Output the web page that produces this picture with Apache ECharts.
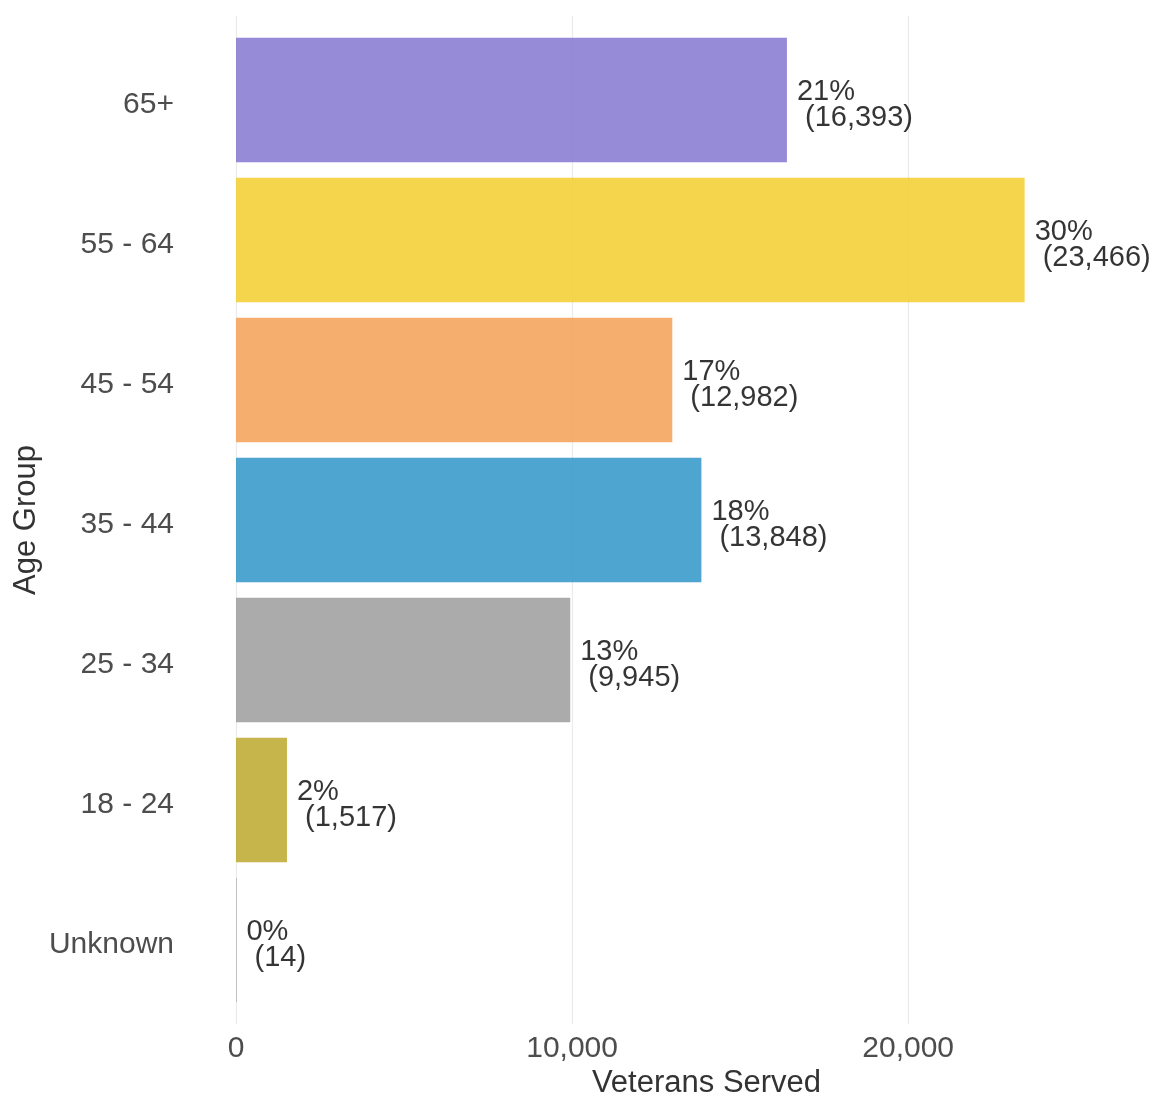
<!DOCTYPE html>
<html>
<head>
<meta charset="utf-8">
<script src="https://cdn.jsdelivr.net/npm/echarts@6/dist/echarts.min.js"></script>
<style>
  html, body { margin: 0; padding: 0; background: #ffffff; }
  #chart { width: 1157px; height: 1098px; }
</style>
</head>
<body>
<div id="chart"></div>
<script>
// Veterans served, by age group
const ageGroups = ['65+', '55 - 64', '45 - 54', '35 - 44', '25 - 34', '18 - 24', 'Unknown'];
const veteransServed = [16393, 23466, 12982, 13848, 9945, 1517, 14];
const sharePct = [21, 30, 17, 18, 13, 2, 0];
const barColors = ['#8377CF', '#F2CE2B', '#F4A055', '#2F95C8', '#9C9C9C', '#BCA82B', '#888888'];
const xTicks = [0, 10000, 20000];

const FONT = '"Liberation Sans", Arial, sans-serif';
const fmt = v => v.toLocaleString('en-US');

const chart = echarts.init(document.getElementById('chart'), null, { renderer: 'canvas' });

const panelLeft = 236;
const panelWidth = 941;

chart.setOption({
  backgroundColor: '#ffffff',
  animation: false,
  grid: [
    // full panel: gridlines and x tick labels
    { left: panelLeft, width: panelWidth, top: 16, height: 1008, outerBoundsMode: 'none', containLabel: false },
    // bar area
    { left: panelLeft, width: panelWidth, top: 30, height: 980, outerBoundsMode: 'none', containLabel: false }
  ],
  xAxis: [
    {
      gridIndex: 0,
      type: 'value',
      min: 0,
      max: 28000,
      interval: 10000,
      axisLine: { show: false },
      axisTick: { show: false },
      splitLine: { show: true, lineStyle: { color: '#EBEBEB', width: 1.2 } },
      axisLabel: {
        show: true,
        margin: 10,
        showMaxLabel: false,
        color: '#4D4D4D',
        fontFamily: FONT,
        fontSize: 30,
        formatter: v => (xTicks.includes(v) ? fmt(v) : '')
      },
      name: 'Veterans Served',
      nameLocation: 'middle',
      nameGap: 44,
      nameMoveOverlap: false,
      nameTextStyle: { color: '#333333', fontFamily: FONT, fontSize: 31 }
    },
    {
      gridIndex: 1,
      type: 'value',
      min: 0,
      max: 28000,
      show: false
    }
  ],
  yAxis: [
    {
      gridIndex: 0,
      type: 'value',
      show: false
    },
    {
      gridIndex: 1,
      type: 'category',
      inverse: true,
      data: ageGroups,
      axisLine: { show: false },
      axisTick: { show: false },
      splitLine: { show: false },
      axisLabel: {
        margin: 62,
        formatter: v => '{t|' + v + '}',
        rich: {
          t: {
            color: '#4D4D4D',
            fontFamily: FONT,
            fontSize: 30,
            padding: [9, 0, 0, 0]
          }
        }
      },
      name: 'Age Group',
      nameLocation: 'middle',
      nameGap: 194,
      nameRotate: 90,
      nameMoveOverlap: false,
      nameTextStyle: { color: '#333333', fontFamily: FONT, fontSize: 31 }
    }
  ],
  series: [
    {
      type: 'bar',
      xAxisIndex: 1,
      yAxisIndex: 1,
      barWidth: '89%',
      data: veteransServed.map((v, i) => ({
        value: v,
        itemStyle: { color: barColors[i], opacity: 0.85 }
      })),
      label: {
        show: true,
        position: 'right',
        distance: 10,
        offset: [0, 5],
        fontFamily: FONT,
        fontSize: 29,
        lineHeight: 26,
        color: '#111111',
        align: 'left',
        formatter: p => sharePct[p.dataIndex] + '%\n (' + fmt(veteransServed[p.dataIndex]) + ')'
      }
    }
  ]
});
</script>
</body>
</html>
